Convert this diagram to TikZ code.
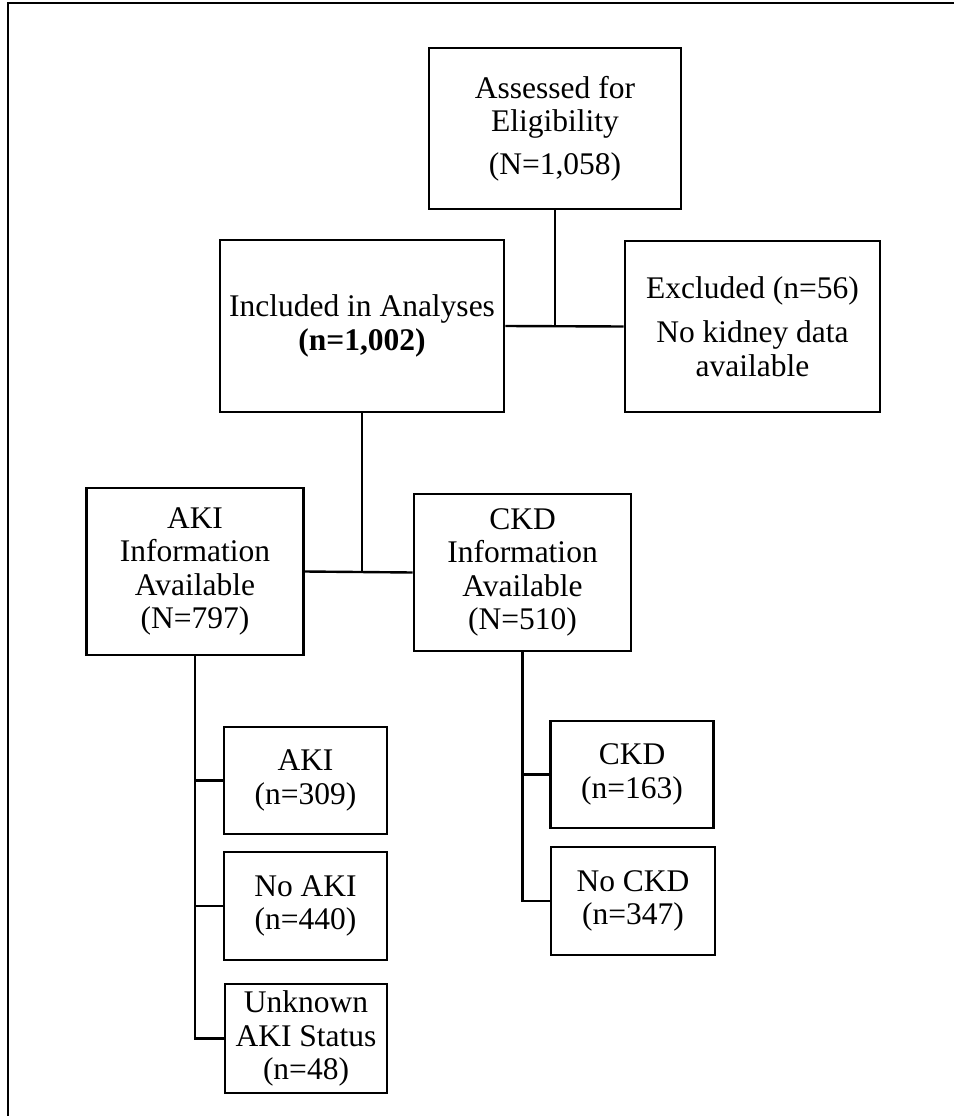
\documentclass[tikz,border=0pt]{standalone}
\usepackage{fontspec}
\setmainfont{Liberation Serif}
\begin{document}
\begin{tikzpicture}[x=1pt,y=-1pt,
  box/.style={draw, line width=2.8pt, align=center, inner sep=0pt,
    font=\fontsize{31.5}{33.5}\selectfont},
  conn/.style={line width=2.4pt},
  frame/.style={line width=2pt}]
\useasboundingbox (0,0) rectangle (954,1116);
\coordinate (tl) at (8,3.5);
\coordinate (tr) at (954,3.5);
\coordinate (bl) at (8,1116);
\draw[frame] (bl) -- (tl) -- (tr);

\node[box, minimum width=252pt, minimum height=161pt] (assess) at (555,128.5)
  {Assessed for\\Eligibility\\[9pt](N=1,058)};
\node[box, minimum width=284pt, minimum height=172pt] (incl) at (362,326)
  {Included in Analyses\\\textbf{(n=1,002)}};
\node[box, minimum width=255pt, minimum height=171pt] (excl) at (752.5,326.5)
  {Excluded (n=56)\\[11pt]No kidney data\\available};
\node[box, minimum width=217pt, minimum height=167pt] (akiinfo) at (195,571.5)
  {AKI\\Information\\Available\\(N=797)};
\node[box, minimum width=217pt, minimum height=157pt] (ckdinfo) at (522.5,572.5)
  {CKD\\Information\\Available\\(N=510)};
\node[box, minimum width=163pt, minimum height=107pt] (aki) at (305.5,780.5)
  {AKI\\(n=309)};
\node[box, minimum width=163pt, minimum height=108pt] (noaki) at (305.5,906)
  {No AKI\\(n=440)};
\node[box, minimum width=162pt, minimum height=109pt] (unk) at (306,1038.5)
  {Unknown\\AKI Status\\(n=48)};
\node[box, minimum width=163pt, minimum height=107pt] (ckd) at (632,774.5)
  {CKD\\(n=163)};
\node[box, minimum width=164pt, minimum height=108pt] (nockd) at (633,901)
  {No CKD\\(n=347)};

% top split
\coordinate (j1) at (assess.south |- incl.east);
\draw[conn] (assess.south) -- (j1);
\draw[conn] (incl.east) -- (excl.west);

% included split
\coordinate (j2) at (incl.south |- akiinfo.east);
\draw[conn] (incl.south) -- (j2);
\draw[conn] (akiinfo.east) -- (ckdinfo.west);

% AKI branches
\coordinate (a3) at (akiinfo.south |- unk.west);
\draw[conn] (akiinfo.south) -- (a3) -- (unk.west);
\draw[conn] (akiinfo.south |- aki.west) -- (aki.west);
\draw[conn] (akiinfo.south |- noaki.west) -- (noaki.west);

% CKD branches
\coordinate (c2) at (ckdinfo.south |- nockd.west);
\draw[conn] (ckdinfo.south) -- (c2) -- (nockd.west);
\draw[conn] (ckdinfo.south |- ckd.west) -- (ckd.west);
\end{tikzpicture}
\end{document}
